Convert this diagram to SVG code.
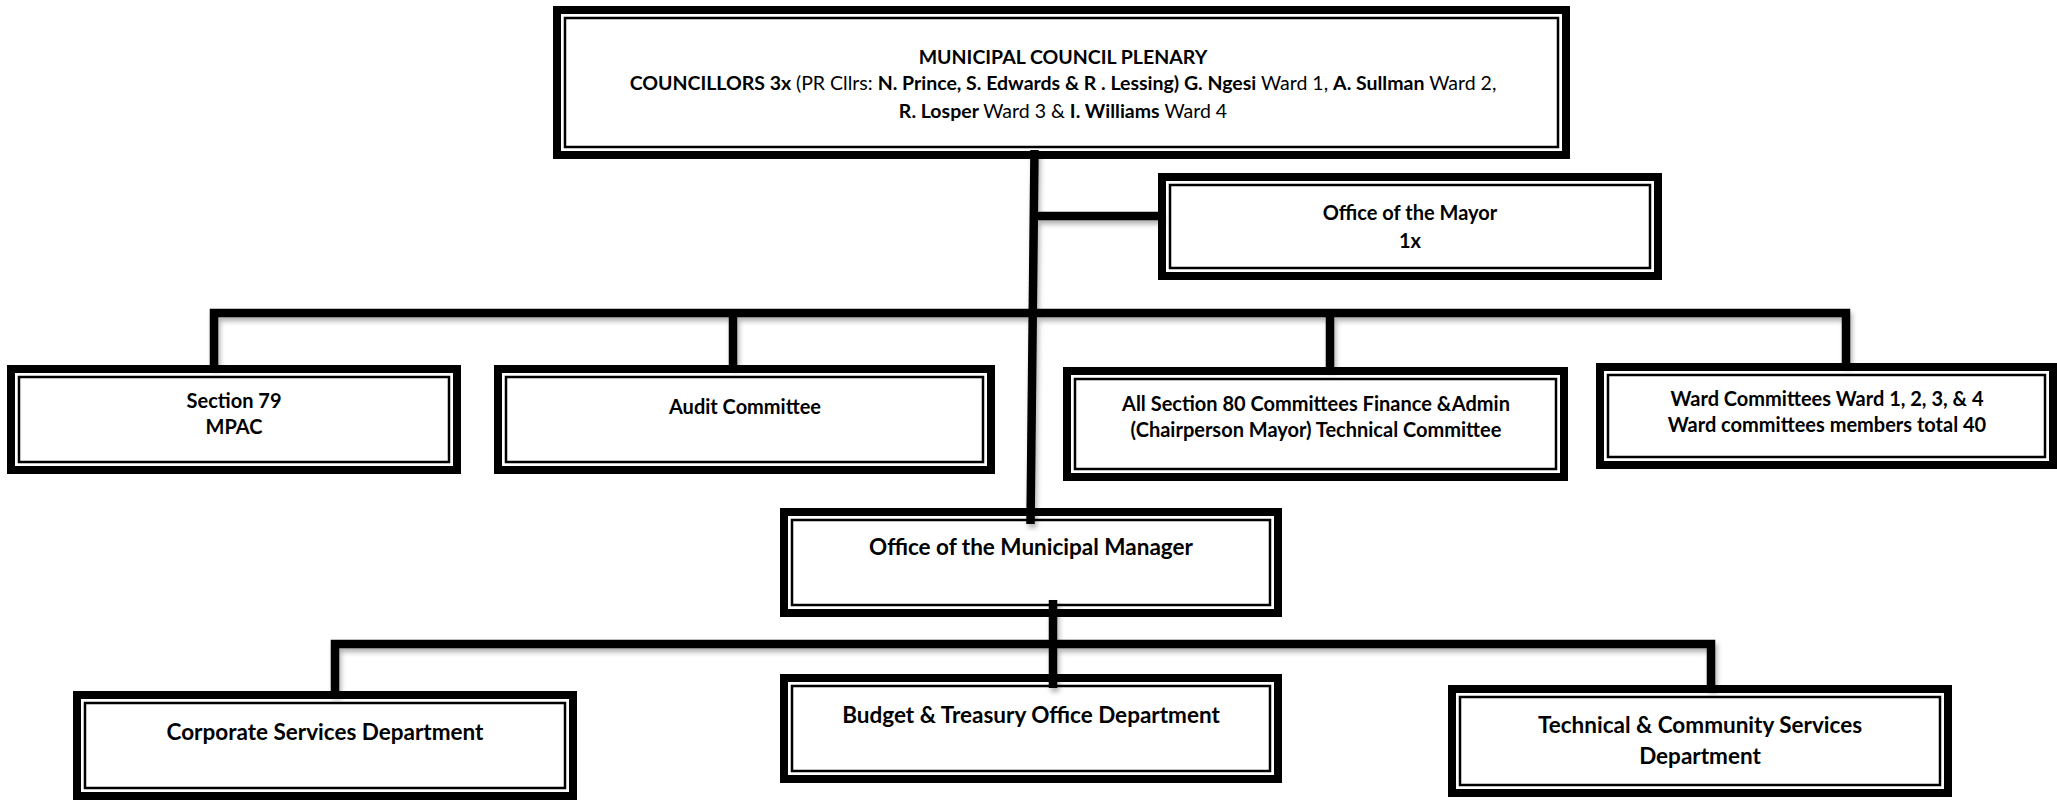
<svg xmlns="http://www.w3.org/2000/svg" width="2057" height="800" viewBox="0 0 2057 800">
  <defs>
    <style>
      .outer { fill: #ffffff; stroke: #000000; stroke-width: 8; }
      .inner { fill: none; stroke: #000000; stroke-width: 2.5; }
      .wire { fill: none; stroke: #000000; stroke-width: 8.5; stroke-linejoin: miter; stroke-linecap: butt; }
      .lbl { font-family: Lato, "Liberation Sans", sans-serif; font-weight: 700; font-size: 20px; fill: #000000; text-anchor: middle; }
      .top { font-size: 19.5px; }
      .big { font-size: 22.5px; }
      .reg { font-weight: 400; }
    </style>
    <filter id="soft" x="-5%" y="-50%" width="110%" height="200%">
      <feDropShadow dx="2" dy="4" stdDeviation="2.5" flood-color="#000000" flood-opacity="0.3"/>
    </filter>
  </defs>

  <!-- Nodes: thick outer frame with a thin inner rule -->
  <g id="council">
    <rect class="outer" x="557" y="10" width="1009" height="145"/>
    <rect class="inner" x="565" y="18" width="993" height="129"/>
    <text class="lbl top" x="1063" y="64">MUNICIPAL COUNCIL PLENARY</text>
    <text class="lbl top" x="1063" y="90">COUNCILLORS 3x <tspan class="reg">(PR Cllrs: </tspan>N. Prince, S. Edwards &amp; R . Lessing) G. Ngesi <tspan class="reg">Ward 1, </tspan>A. Sullman <tspan class="reg">Ward 2,</tspan></text>
    <text class="lbl top" x="1063" y="118">R. Losper <tspan class="reg">Ward 3 &amp; </tspan>I. Williams <tspan class="reg">Ward 4</tspan></text>
  </g>

  <g id="mayor">
    <rect class="outer" x="1162" y="177" width="496" height="99"/>
    <rect class="inner" x="1170" y="185" width="480" height="83"/>
    <text class="lbl" x="1410" y="220">Office of the Mayor</text>
    <text class="lbl" x="1410" y="248">1x</text>
  </g>

  <g id="section79">
    <rect class="outer" x="11" y="369" width="446" height="101"/>
    <rect class="inner" x="19" y="377" width="430" height="85"/>
    <text class="lbl" x="234" y="408">Section 79</text>
    <text class="lbl" x="234" y="434">MPAC</text>
  </g>

  <g id="audit">
    <rect class="outer" x="498" y="369" width="493" height="101"/>
    <rect class="inner" x="506" y="377" width="477" height="85"/>
    <text class="lbl" x="745" y="414">Audit Committee</text>
  </g>

  <g id="section80">
    <rect class="outer" x="1067" y="371" width="497" height="106"/>
    <rect class="inner" x="1075" y="379" width="481" height="90"/>
    <text class="lbl" x="1316" y="411">All Section 80 Committees Finance &amp;Admin</text>
    <text class="lbl" x="1316" y="437">(Chairperson Mayor) Technical Committee</text>
  </g>

  <g id="ward">
    <rect class="outer" x="1600" y="367" width="453" height="98"/>
    <rect class="inner" x="1608" y="375" width="437" height="82"/>
    <text class="lbl" x="1827" y="406">Ward Committees Ward 1, 2, 3, &amp; 4</text>
    <text class="lbl" x="1827" y="432">Ward committees members total 40</text>
  </g>

  <g id="municipal-manager">
    <rect class="outer" x="784" y="512" width="494" height="101"/>
    <rect class="inner" x="792" y="520" width="478" height="85"/>
    <text class="lbl big" x="1031" y="555">Office of the Municipal Manager</text>
  </g>

  <g id="corporate">
    <rect class="outer" x="77" y="695" width="496" height="101"/>
    <rect class="inner" x="85" y="703" width="480" height="85"/>
    <text class="lbl big" x="325" y="740">Corporate Services Department</text>
  </g>

  <g id="budget">
    <rect class="outer" x="784" y="678" width="494" height="101"/>
    <rect class="inner" x="792" y="686" width="478" height="85"/>
    <text class="lbl big" x="1031" y="723">Budget &amp; Treasury Office Department</text>
  </g>

  <g id="technical">
    <rect class="outer" x="1452" y="689" width="496" height="104"/>
    <rect class="inner" x="1460" y="697" width="480" height="88"/>
    <text class="lbl big" x="1700" y="733">Technical &amp; Community Services</text>
    <text class="lbl big" x="1700" y="764">Department</text>
  </g>

  <!-- Connectors -->
  <g id="connectors" filter="url(#soft)">
    <path class="wire" d="M1034.5,150 L1030.5,524"/>
    <path class="wire" d="M1033,216 H1162"/>
    <path class="wire" d="M214,367 V313 H1846 V365"/>
    <path class="wire" d="M733,313 V367"/>
    <path class="wire" d="M1330,313 V369"/>
    <path class="wire" d="M335,695 V644 H1711 V689"/>
    <path class="wire" d="M1053,600 V688"/>
  </g>
</svg>
